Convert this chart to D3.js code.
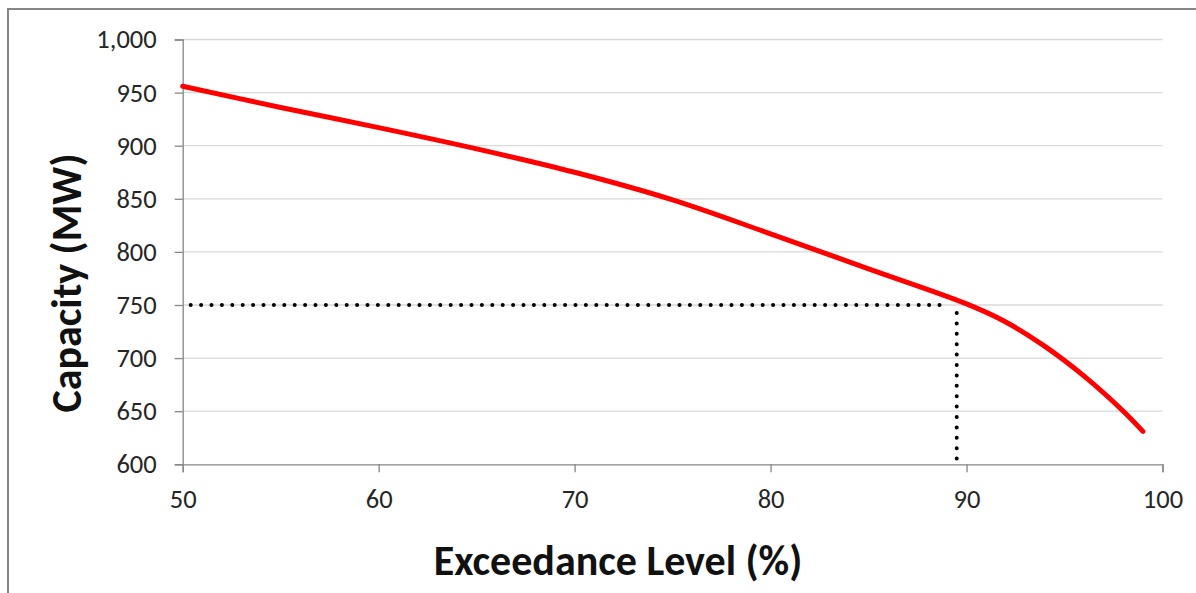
<!DOCTYPE html>
<html><head><meta charset="utf-8">
<script src="https://cdn.jsdelivr.net/npm/d3@7"></script>
<style>
html,body{margin:0;padding:0;background:#fff;}
svg{display:block;}
text{font-family:Carlito,Calibri,Lato,sans-serif;}
</style></head>
<body>
<svg id="chart" width="1196" height="593"></svg>
<script>
const exceedance = [50, 55, 60, 65, 70, 75, 80, 85, 90, 92, 94, 96, 98, 99];
const capacity   = [956, 936, 917, 897, 875, 849, 817, 784, 751, 734, 711, 683, 650, 631];
const xTicks = [50, 60, 70, 80, 90, 100];
const yTicks = [600, 650, 700, 750, 800, 850, 900, 950, 1000];
const refX = 89.5, refY = 750;

const svg = d3.select("#chart");
const W = 1196, H = 593;
const margin = {left:182.7, right:W-1162.5, top:39.5, bottom:H-464.3};
const x = d3.scaleLinear().domain([50,100]).range([margin.left, W-margin.right]);
const y = d3.scaleLinear().domain([600,1000]).range([H-margin.bottom, margin.top]);

// frame
svg.append("rect").attr("x",8).attr("y",9).attr("width",1200).attr("height",600)
  .attr("fill","none").attr("stroke","#868686").attr("stroke-width",2);

// gridlines
svg.append("g").selectAll("line").data(yTicks.slice(1)).join("line")
  .attr("x1",x(50)).attr("x2",x(100)).attr("y1",d=>y(d)).attr("y2",d=>y(d))
  .attr("stroke","#d9d9d9").attr("stroke-width",1.3);

// axes
const fmt = d3.format(",");
const yAxis = svg.append("g").attr("transform",`translate(${x(50)},0)`)
  .call(d3.axisLeft(y).tickValues(yTicks).tickFormat(fmt).tickSize(8).tickPadding(18));
const xAxis = svg.append("g").attr("transform",`translate(0,${y(600)})`)
  .call(d3.axisBottom(x).tickValues(xTicks).tickSize(8).tickPadding(17));
[yAxis,xAxis].forEach(a=>{
  a.select(".domain").attr("stroke","#868686").attr("stroke-width",1.3);
  a.selectAll(".tick line").attr("stroke","#868686").attr("stroke-width",1.3);
  a.selectAll(".tick text").attr("fill","#262626").style("font-size","26.5px").style("font-family","Carlito,Calibri,Lato,sans-serif");
});

// dotted reference lines
const dotStyle = s => s.attr("stroke","#000").attr("stroke-width",4)
  .attr("stroke-linecap","round").attr("stroke-dasharray","0 10.4").attr("fill","none");
svg.append("line").attr("x1",x(50)+8).attr("x2",x(refX)-8).attr("y1",y(refY)).attr("y2",y(refY)).call(dotStyle);
svg.append("line").attr("x1",x(refX)).attr("x2",x(refX)).attr("y1",y(refY)+8).attr("y2",y(600)-4).call(dotStyle);

// curve
const data = exceedance.map((e,i)=>({e, c:capacity[i]}));
svg.append("path").datum(data)
  .attr("d", d3.line().x(d=>x(d.e)).y(d=>y(d.c)).curve(d3.curveCatmullRom.alpha(0.5)))
  .attr("fill","none").attr("stroke","#ff0000").attr("stroke-width",5).attr("stroke-linecap","round");

// axis titles
svg.append("text").attr("x",618).attr("y",574.5).attr("text-anchor","middle")
  .style("font-size","42px").style("font-weight","bold").attr("fill","#111").text("Exceedance Level (%)");
svg.append("text").attr("transform",`translate(81,283) rotate(-90)`).attr("text-anchor","middle")
  .style("font-size","42px").style("font-weight","bold").attr("fill","#111").text("Capacity (MW)");
</script>
</body></html>
